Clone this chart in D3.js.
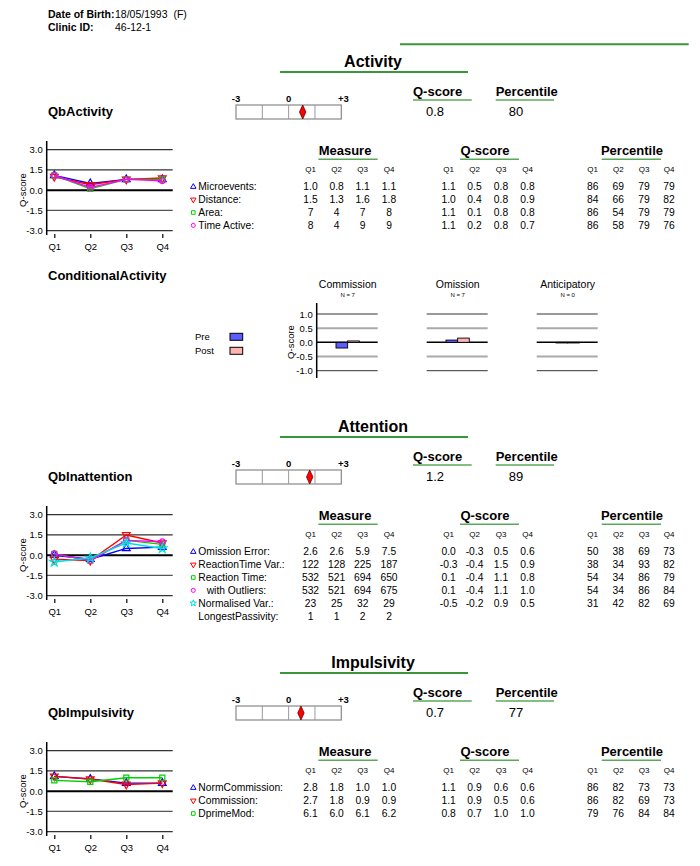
<!DOCTYPE html>
<html><head><meta charset="utf-8">
<script src="https://cdn.jsdelivr.net/npm/d3@7"></script>
<style>
body{margin:0;background:#fff}
svg{display:block;font-family:"Liberation Sans",Arial,Helvetica,sans-serif}
</style>
</head><body><svg id="c" width="700" height="866"></svg>
<script>
// ---------------- DATA ----------------
const quarters = ["Q1","Q2","Q3","Q4"];
const qbScaleTicks = [-3, 0, 3];
const qbScaleTickLabels = ["-3","0","+3"];
const qbScaleCells = [-3,-1.5,0,1.5,3];

const dateOfBirth = "18/05/1993  (F)";
const clinicId = "46-12-1";

const activityTitle = "Activity", activityLabel = "QbActivity";
const activityScore = 0.8, activityPercentile = 80;
const activityRows = ["Microevents:","Distance:","Area:","Time Active:"];
const activityMeasure = [["1.0","0.8","1.1","1.1"],["1.5","1.3","1.6","1.8"],["7","4","7","8"],["8","4","9","9"]];
const activityQ = [[1.1,0.5,0.8,0.8],[1.0,0.4,0.8,0.9],[1.1,0.1,0.8,0.8],[1.1,0.2,0.8,0.7]];
const activityPct = [[86,69,79,79],[84,66,79,82],[86,54,79,79],[86,58,79,76]];

const condTitle = "ConditionalActivity";
const condGroups = ["Commission","Omission","Anticipatory"];
const condN = [7,7,0];
const condSeries = ["Pre","Post"];
const condPre = [-0.2, 0.08, 0.0];
const condPost = [0.05, 0.15, 0.0];
const condTicks = [1.0,0.5,0.0,-0.5,-1.0];

const attentionTitle = "Attention", attentionLabel = "QbInattention";
const attentionScore = 1.2, attentionPercentile = 89;
const attentionRows = ["Omission Error:","ReactionTime Var.:","Reaction Time:","with Outliers:","Normalised Var.:","LongestPassivity:"];
const attentionMeasure = [["2.6","2.6","5.9","7.5"],["122","128","225","187"],["532","521","694","650"],["532","521","694","675"],["23","25","32","29"],["1","1","2","2"]];
const attentionQ = [[0.0,-0.3,0.5,0.6],[-0.3,-0.4,1.5,0.9],[0.1,-0.4,1.1,0.8],[0.1,-0.4,1.1,1.0],[-0.5,-0.2,0.9,0.5]];
const attentionPct = [[50,38,69,73],[38,34,93,82],[54,34,86,79],[54,34,86,84],[31,42,82,69]];

const impulsTitle = "Impulsivity", impulsLabel = "QbImpulsivity";
const impulsScore = 0.7, impulsPercentile = 77;
const impulsRows = ["NormCommission:","Commission:","DprimeMod:"];
const impulsMeasure = [["2.8","1.8","1.0","1.0"],["2.7","1.8","0.9","0.9"],["6.1","6.0","6.1","6.2"]];
const impulsQ = [[1.1,0.9,0.6,0.6],[1.1,0.9,0.5,0.6],[0.8,0.7,1.0,1.0]];
const impulsPct = [[86,82,73,73],[86,82,69,73],[79,76,84,84]];

const miniTicks = [3,1.5,0,-1.5,-3];

// ---------------- STYLES ----------------
const GREEN = "#3a963a", LGREEN = "#5aa95a";
const seriesStyles = [
  {c:"#0000ff", s:"up"}, {c:"#ff0000", s:"down"}, {c:"#00d000", s:"sq"},
  {c:"#ff00ff", s:"circ"}, {c:"#00dede", s:"star"}
];
const attentionIndent = [0,0,0,1,0,0];
const attentionMarker = [true,true,true,true,true,false];
const preColor = "#5c5cff", postColor = "#ffb4b4";

const svg = d3.select("#c");
svg.append("rect").attr("width",700).attr("height",866).attr("fill","#fff");
const fmt1 = d => d.toFixed(1);

function txt(g, x, y, s, size, opts={}) {
  return g.append("text").attr("x",x).attr("y",y).text(s)
    .attr("font-size",size)
    .attr("font-weight",opts.bold?"bold":"normal")
    .attr("text-anchor",opts.anchor||"start")
    .attr("fill",opts.fill||"#000")
    .style("white-space","pre");
}
function symPath(kind, size) {
  if (kind==="up") return d3.symbol(d3.symbolTriangle, size)();
  if (kind==="down") return d3.symbol(d3.symbolTriangle, size)();
  if (kind==="sq") return d3.symbol(d3.symbolSquare, size)();
  if (kind==="circ") return d3.symbol(d3.symbolCircle, size)();
  return d3.symbol(d3.symbolStar, size)();
}
function marker(g, x, y, st, size, sw) {
  g.append("path").attr("d", symPath(st.s, size))
    .attr("transform", `translate(${x},${y})` + (st.s==="down"?" rotate(180)":""))
    .attr("fill","none").attr("stroke",st.c).attr("stroke-width",sw);
}

// ---------------- HEADER ----------------
txt(svg, 48, 18, "Date of Birth:", 10.5, {bold:true});
txt(svg, 115, 18, dateOfBirth, 10.5);
txt(svg, 48, 30.5, "Clinic ID:", 10.5, {bold:true});
txt(svg, 115, 30.5, clinicId, 10.5);
svg.append("line").attr("x1",400).attr("x2",688.7).attr("y1",44.3).attr("y2",44.3)
  .attr("stroke",GREEN).attr("stroke-width",2);

// ---------------- SECTION ----------------
function section(off, title, label, score, pct, rows, measure, qvals, pcts, opt={}) {
  const g = svg.append("g").attr("transform",`translate(0,${off})`);
  txt(g, 373, 66.5, title, 16, {bold:true, anchor:"middle"});
  g.append("line").attr("x1",280).attr("x2",468).attr("y1",72).attr("y2",72).attr("stroke",GREEN).attr("stroke-width",2.2);
  txt(g, 48, 115.5, label, 13, {bold:true});

  const sx = d3.scaleLinear().domain([-3,3]).range([236,341.3]);
  g.append("rect").attr("x",sx(-3)).attr("y",105).attr("width",sx(3)-sx(-3)).attr("height",14)
    .attr("fill","#fff").attr("stroke","#888").attr("stroke-width",1.2);
  qbScaleCells.slice(1,-1).forEach(v => g.append("line").attr("x1",sx(v)).attr("x2",sx(v)).attr("y1",105).attr("y2",119).attr("stroke","#999").attr("stroke-width",1));
  qbScaleTicks.forEach((v,i) => txt(g, sx(v) + (v>0?2:0), 101.5, qbScaleTickLabels[i], 9.5, {bold:true, anchor:"middle"}));
  const dx = sx(score);
  g.append("path").attr("d",`M${dx},105 L${dx+3.2},112 L${dx},119 L${dx-3.2},112 Z`)
    .attr("fill","#ff0000").attr("stroke","#600").attr("stroke-width",0.8);

  txt(g, 413, 96, "Q-score", 13, {bold:true});
  g.append("line").attr("x1",413).attr("x2",471.7).attr("y1",100).attr("y2",100).attr("stroke",LGREEN).attr("stroke-width",1.6);
  txt(g, 435, 116, fmt1(score), 13, {anchor:"middle"});
  txt(g, 495.7, 96, "Percentile", 13, {bold:true});
  g.append("line").attr("x1",495.7).attr("x2",554).attr("y1",100).attr("y2",100).attr("stroke",LGREEN).attr("stroke-width",1.6);
  txt(g, 516, 116, String(pct), 13, {anchor:"middle"});

  const y = d3.scaleLinear().domain([-3,3]).range([230.7,149.7]);
  const x = d3.scalePoint().domain(quarters).range([54.3,162.3]);
  miniTicks.forEach(v => g.append("line").attr("x1",46.7).attr("x2",172.7).attr("y1",y(v)).attr("y2",y(v))
    .attr("stroke", v===0?"#000":(v===-1.5?"#555":"#333")).attr("stroke-width", v===0?2:1.2));
  g.append("line").attr("x1",46.7).attr("x2",46.7).attr("y1",141).attr("y2",235).attr("stroke","#000").attr("stroke-width",1.5);
  const ya = g.append("g").attr("transform","translate(46.7,0)")
    .call(d3.axisLeft(y).tickValues(miniTicks).tickFormat(fmt1).tickSize(0).tickPadding(4));
  ya.select(".domain").remove();
  ya.selectAll("text").attr("font-size",9.5).attr("font-family",null).attr("fill","#000");
  const xa = g.append("g").attr("transform","translate(0,234)")
    .call(d3.axisBottom(x).tickSize(4).tickPadding(5));
  xa.select(".domain").remove();
  xa.selectAll("line").attr("stroke","#000").attr("stroke-width",1.2);
  xa.selectAll("text").attr("font-size",9.5).attr("font-family",null).attr("fill","#000");
  txt(g, 0, 0, "Q-score", 9.5, {anchor:"middle"}).attr("transform","translate(26,190) rotate(-90)");
  const line = d3.line().x((d,i)=>x(quarters[i])).y(d=>y(d));
  qvals.forEach((s,k) => {
    const st = seriesStyles[k];
    g.append("path").attr("d",line(s)).attr("fill","none").attr("stroke",st.c).attr("stroke-width",1.4);
    s.forEach((v,i) => marker(g, x(quarters[i]), y(v), st, 26, 1.2));
  });

  const mx = [310.5, 336.7, 362.7, 389];
  const qx = [448.7, 474.5, 501, 527.5];
  const px = [592.7, 618.3, 644, 669];
  const hdr = [["Measure",345,318.3,377.7,mx],["Q-score",485,460,519,qx],["Percentile",632,601.7,661,px]];
  hdr.forEach(([t,cx,a,b,cols]) => {
    txt(g, cx, 155, t, 13, {bold:true, anchor:"middle"});
    g.append("line").attr("x1",a).attr("x2",b).attr("y1",159.3).attr("y2",159.3).attr("stroke",LGREEN).attr("stroke-width",1.6);
    quarters.forEach((q,i) => txt(g, cols[i], 172, q, 8, {anchor:"middle"}));
  });
  const rowY = i => 190.4 + i*12.85;
  rows.forEach((r,i) => {
    const indent = opt.indent ? opt.indent[i] : 0;
    const hasMarker = opt.markers ? opt.markers[i] : true;
    if (hasMarker) marker(g, 193.3, rowY(i)-3.6, seriesStyles[i], 13, 1);
    txt(g, indent ? 206.7 : 198.3, rowY(i), r, 10.3);
    measure[i].forEach((v,j) => txt(g, mx[j], rowY(i), v, 10.3, {anchor:"middle"}));
    if (qvals[i]) qvals[i].forEach((v,j) => txt(g, qx[j], rowY(i), fmt1(v), 10.3, {anchor:"middle"}));
    if (pcts[i]) pcts[i].forEach((v,j) => txt(g, px[j], rowY(i), String(v), 10.3, {anchor:"middle"}));
  });
  return g;
}

section(0, activityTitle, activityLabel, activityScore, activityPercentile, activityRows, activityMeasure, activityQ, activityPct);
section(365, attentionTitle, attentionLabel, attentionScore, attentionPercentile, attentionRows, attentionMeasure, attentionQ, attentionPct, {indent:attentionIndent, markers:attentionMarker});
section(601, impulsTitle, impulsLabel, impulsScore, impulsPercentile, impulsRows, impulsMeasure, impulsQ, impulsPct);

// ---------------- CONDITIONAL ACTIVITY ----------------
txt(svg, 48, 279.5, condTitle, 13, {bold:true});
const cy = d3.scaleLinear().domain([-1,1]).range([370.7,314]);
const gx = d3.scalePoint().domain(condGroups).range([316.7,536.7]);
const bx = d3.scaleBand().domain(condSeries).range([19.3,42.6]);
condGroups.forEach((grp,i) => {
  const x0 = gx(grp);
  txt(svg, x0+31, 288, grp, 10.5, {anchor:"middle"});
  txt(svg, x0+31, 296.5, "N = " + condN[i], 6, {anchor:"middle"});
  condTicks.forEach(v => svg.append("line").attr("x1",x0).attr("x2",x0+61).attr("y1",cy(v)).attr("y2",cy(v))
    .attr("stroke", v===0?"#000":(Math.abs(v)===1?"#333":"#aaa"))
    .attr("stroke-width", v===0?1.5:(Math.abs(v)===1?1:2)));
  [condPre[i], condPost[i]].forEach((v,k) => {
    const top = cy(Math.max(0,v)), bot = cy(Math.min(0,v));
    svg.append("rect").attr("x",x0+bx(condSeries[k])).attr("width",bx.bandwidth())
      .attr("y",top).attr("height",Math.max(0.6,bot-top))
      .attr("fill",k===0?preColor:postColor).attr("stroke","#000").attr("stroke-width",0.9);
  });
});
svg.append("line").attr("x1",316.7).attr("x2",316.7).attr("y1",303).attr("y2",378).attr("stroke","#000").attr("stroke-width",1.5);
const cya = svg.append("g").attr("transform","translate(316.7,0)")
  .call(d3.axisLeft(cy).tickValues(condTicks).tickFormat(fmt1).tickSize(0).tickPadding(4));
cya.select(".domain").remove();
cya.selectAll("text").attr("font-size",9.5).attr("font-family",null).attr("fill","#000");
txt(svg, 0, 0, "Q-score", 9.5, {anchor:"middle"}).attr("transform","translate(293.5,342) rotate(-90)");
condSeries.forEach((s,k) => {
  txt(svg, 195, 340 + k*14, s, 9.5);
  svg.append("rect").attr("x",230).attr("y",333.3 + k*14).attr("width",12.7).attr("height",7)
    .attr("fill",k===0?preColor:postColor).attr("stroke","#000").attr("stroke-width",1);
});
</script></body></html>
